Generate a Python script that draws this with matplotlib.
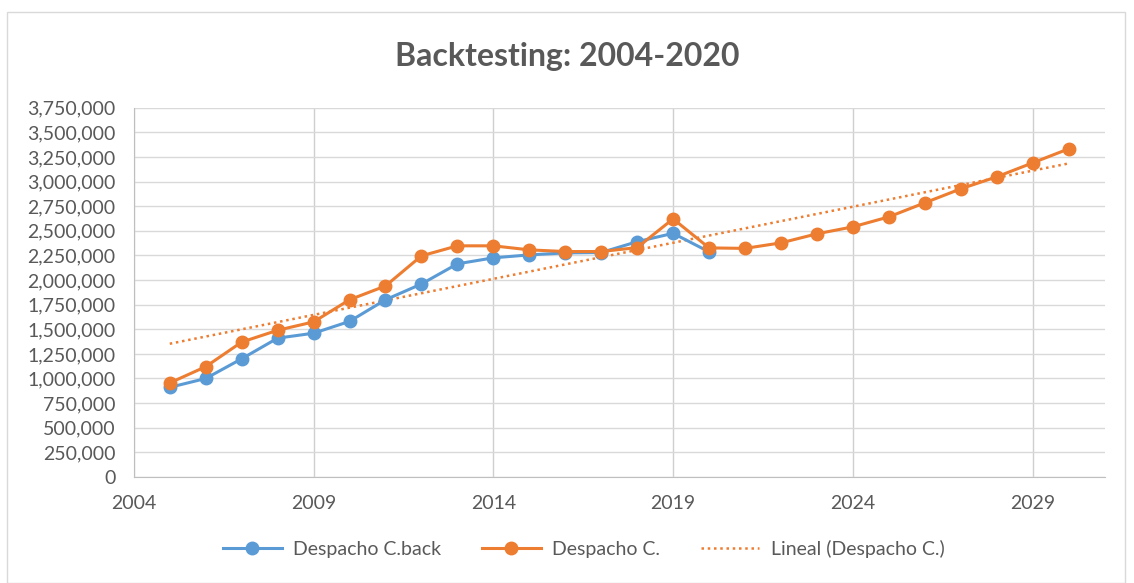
import matplotlib
matplotlib.use("Agg")
import matplotlib.pyplot as plt
import numpy as np
from matplotlib.patches import Rectangle
from matplotlib.ticker import FuncFormatter

# data
years_back = list(range(2005, 2021))
despacho_back = [910000, 1000000, 1200000, 1410000, 1460000, 1580000, 1800000, 1960000,
                 2165000, 2226000, 2256000, 2276000, 2280000, 2390000, 2475000, 2287000]

years_fc = list(range(2005, 2031))
despacho = [955000, 1120000, 1370000, 1490000, 1575000, 1800000, 1940000, 2246000,
            2348000, 2348000, 2307000, 2290000, 2290000, 2330000, 2622000, 2327000,
            2322000, 2378000, 2470000, 2541000, 2642000, 2785000, 2927000, 3049000,
            3191000, 3333000]

x_ticks = [2004, 2009, 2014, 2019, 2024, 2029]
title = "Backtesting: 2004-2020"
labels = ["Despacho C.back", "Despacho C.", "Lineal (Despacho C.)"]

BLUE = "#5B9BD5"
ORANGE = "#ED7D31"
TEXT = "#595959"
GRID = "#D9D9D9"

plt.rcParams["font.family"] = ["Lato", "DejaVu Sans"]

fig = plt.figure(figsize=(11.34, 5.83), dpi=100)
fig.patches.append(Rectangle((7 / 1134, 0.0), 1118 / 1134, 571 / 583,
                             transform=fig.transFigure, fill=False,
                             edgecolor=GRID, linewidth=1.0))

ax = fig.add_axes([0.118, 0.182, 0.856, 0.633])

ax.plot(years_back, despacho_back, color=BLUE, lw=2.2, marker="o", ms=9,
        label=labels[0], zorder=3)
ax.plot(years_fc, despacho, color=ORANGE, lw=2.2, marker="o", ms=9,
        label=labels[1], zorder=4)

# linear trendline over the forecast series
coef = np.polyfit(years_fc, despacho, 1)
trend_x = np.array([years_fc[0], years_fc[-1]])
ax.plot(trend_x, np.polyval(coef, trend_x), color=ORANGE, lw=1.8, ls=(0, (1, 1.5)),
        label=labels[2], zorder=2)

ax.set_xlim(2004, 2031)
ax.set_ylim(0, 3750000)
ax.set_xticks(x_ticks)
ax.set_yticks(np.arange(0, 3750001, 250000))
ax.yaxis.set_major_formatter(FuncFormatter(lambda v, _: f"{int(v):,}"))
ax.tick_params(length=0, labelsize=14, colors=TEXT)
ax.tick_params(axis="y", pad=13)
ax.tick_params(axis="x", pad=13)
ax.grid(True, color=GRID, lw=1.0)
ax.xaxis.grid(True, color="#CFCFCF")
ax.set_axisbelow(True)
for side in ["top", "right"]:
    ax.spines[side].set_visible(False)
for side in ["left", "bottom"]:
    ax.spines[side].set_color("#BFBFBF")

fig.text(0.5, 0.903, title, ha="center", va="center", fontsize=23,
         color=TEXT, fontweight="bold")

fig.legend(loc="center", bbox_to_anchor=(0.515, 0.058), ncol=3, frameon=False,
           fontsize=14, labelcolor=TEXT, handlelength=3, handletextpad=0.6,
           columnspacing=2.1)

fig.savefig("out.png", dpi=100)
